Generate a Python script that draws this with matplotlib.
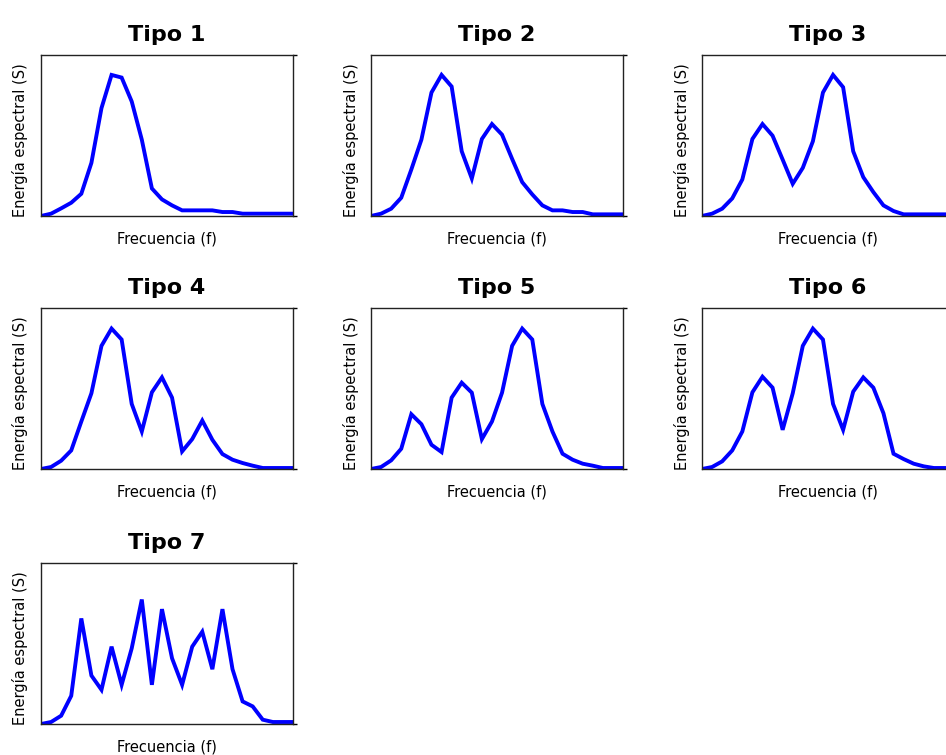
import matplotlib
matplotlib.use("Agg")
import matplotlib.pyplot as plt

W, H = 946, 755

titles = ["Tipo 1", "Tipo 2", "Tipo 3", "Tipo 4", "Tipo 5", "Tipo 6", "Tipo 7"]

# spectral energy per frequency step (arbitrary units)
tipo1 = [0, 7, 23, 40, 67, 160, 325, 425, 417, 345, 230, 83, 50, 32, 17, 17, 17, 17, 12, 12, 7, 7, 7, 7, 7, 7]
tipo2 = [0, 7, 22, 55, 140, 230, 372, 425, 390, 195, 113, 232, 277, 245, 172, 102, 65, 32, 17, 17, 12, 12, 5, 5, 5, 5]
tipo3 = [0, 7, 22, 53, 110, 232, 277, 242, 170, 97, 145, 225, 372, 425, 388, 195, 117, 72, 32, 15, 5, 5, 5, 5, 5, 5]
tipo4 = [0, 6, 25, 56, 143, 228, 371, 423, 390, 196, 113, 231, 276, 215, 53, 90, 146, 88, 45, 28, 18, 10, 3, 3, 3, 3]
tipo5 = [0, 6, 26, 61, 165, 135, 73, 51, 215, 260, 230, 90, 143, 230, 371, 423, 390, 196, 113, 46, 28, 16, 10, 3, 3, 3]
tipo6 = [0, 6, 23, 56, 113, 231, 278, 245, 118, 228, 371, 423, 390, 196, 118, 233, 276, 245, 168, 46, 30, 16, 8, 3, 3, 3]
tipo7 = [0, 6, 25, 85, 318, 146, 103, 233, 118, 228, 375, 118, 346, 198, 118, 233, 278, 165, 346, 165, 68, 53, 13, 6, 6, 6]
series = [tipo1, tipo2, tipo3, tipo4, tipo5, tipo6, tipo7]

YMAX = 485

# axes boxes in pixels: left, top
col_x = [41, 371, 702]
row_y = [55, 308, 563]
ax_w, ax_h = 252, 161

fig = plt.figure(figsize=(W / 100, H / 100), dpi=100)
fig.patch.set_facecolor("white")

for i, (title, s) in enumerate(zip(titles, series)):
    r, c = divmod(i, 3)
    left = col_x[c] / W
    bottom = 1 - (row_y[r] + ax_h) / H
    ax = fig.add_axes([left, bottom, ax_w / W, ax_h / H])
    ax.plot(range(len(s)), s, color="#0000ff", linewidth=2.8, solid_joinstyle="miter")
    ax.set_xlim(0, len(s) - 1)
    ax.set_ylim(0, YMAX)
    ax.set_xticks([])
    ax.yaxis.tick_right()
    ax.set_yticks([0, YMAX])
    ax.tick_params(axis="y", direction="out", length=3, width=1, labelright=False)
    for sp in ax.spines.values():
        sp.set_linewidth(1.0)
        sp.set_color("#222222")
    ax.set_title(title, fontsize=16, fontweight="bold", pad=10)
    ax.set_xlabel("Frecuencia (f)", fontsize=10.5, labelpad=11)
    ax.set_ylabel("Energía espectral (S)", fontsize=10.5, labelpad=9, y=0.47)

fig.savefig("out.png", dpi=100)
